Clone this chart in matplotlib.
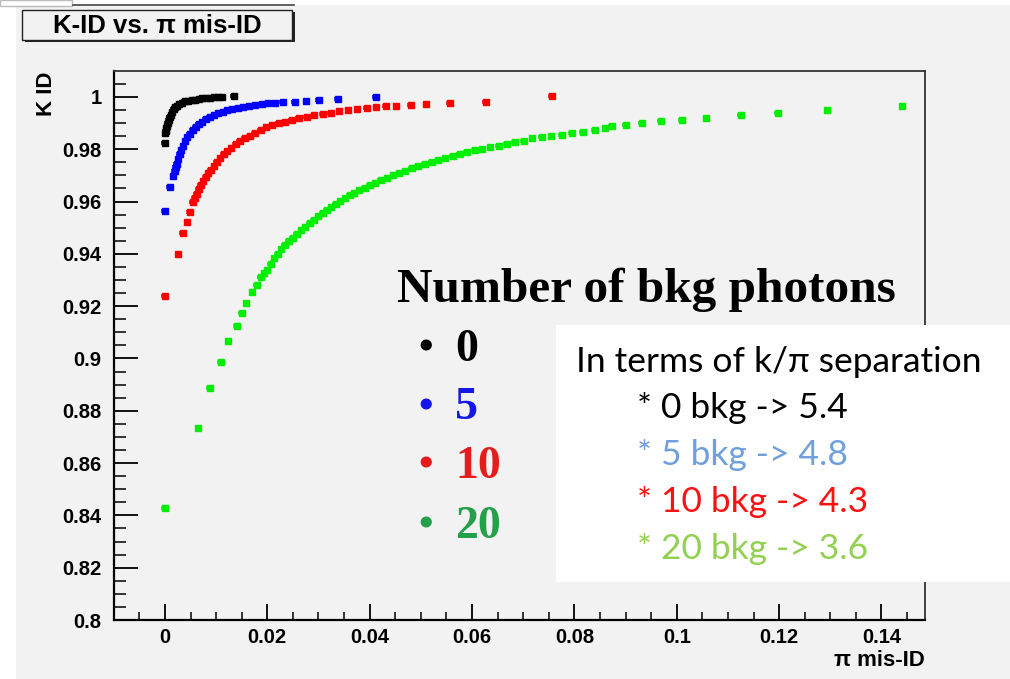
import matplotlib.pyplot as plt
from matplotlib.patches import Rectangle
from matplotlib.ticker import MultipleLocator

# K-ID efficiency vs pi mis-ID for different numbers of background photons
black_x = [0.0000, 0.0001, 0.0002, 0.0003, 0.0005, 0.0006, 0.0008, 0.0010, 0.0012, 0.0014,
           0.0017, 0.0020, 0.0024, 0.0028, 0.0033, 0.0039, 0.0045, 0.0052, 0.0059, 0.0066,
           0.0073, 0.0080, 0.0088, 0.0096, 0.0104, 0.0112, 0.0135]
black_y = [0.9824, 0.9862, 0.9869, 0.9880, 0.9890, 0.9900, 0.9910, 0.9922, 0.9932, 0.9942,
           0.9952, 0.9960, 0.9967, 0.9973, 0.9978, 0.9983, 0.9986, 0.9988, 0.9990, 0.9992,
           0.9994, 0.9996, 0.9997, 0.9998, 0.9999, 1.0000, 1.0002]

blue_x = [0.0000, 0.0010, 0.0016, 0.0019, 0.0021, 0.0023, 0.0026, 0.0029, 0.0032, 0.0036,
          0.0040, 0.0044, 0.0049, 0.0054, 0.0060, 0.0066, 0.0073, 0.0080, 0.0088, 0.0096,
          0.0104, 0.0113, 0.0122, 0.0132, 0.0142, 0.0153, 0.0164, 0.0176, 0.0189, 0.0202,
          0.0216, 0.0230, 0.0254, 0.0276, 0.0301, 0.0338, 0.0412]
blue_y = [0.9563, 0.9655, 0.9697, 0.9715, 0.9731, 0.9745, 0.9762, 0.9780, 0.9797, 0.9813,
          0.9830, 0.9845, 0.9858, 0.9872, 0.9884, 0.9895, 0.9905, 0.9914, 0.9922, 0.9930,
          0.9937, 0.9943, 0.9949, 0.9954, 0.9958, 0.9962, 0.9966, 0.9969, 0.9972, 0.9975,
          0.9977, 0.9979, 0.9981, 0.9984, 0.9989, 0.9992, 1.0000]

red_x = [0.0000, 0.0026, 0.0035, 0.0044, 0.0049, 0.0054, 0.0058, 0.0062, 0.0066, 0.0070,
         0.0075, 0.0080, 0.0085, 0.0090, 0.0096, 0.0101, 0.0108, 0.0115, 0.0122, 0.0130,
         0.0138, 0.0146, 0.0156, 0.0166, 0.0176, 0.0187, 0.0198, 0.0210, 0.0222, 0.0235,
         0.0248, 0.0262, 0.0277, 0.0292, 0.0308, 0.0324, 0.0341, 0.0358, 0.0376, 0.0394,
         0.0413, 0.0432, 0.0452, 0.0480, 0.0511, 0.0556, 0.0627, 0.0756]
red_y = [0.9239, 0.9400, 0.9479, 0.9523, 0.9561, 0.9600, 0.9613, 0.9630, 0.9648, 0.9663,
         0.9678, 0.9693, 0.9708, 0.9722, 0.9737, 0.9752, 0.9766, 0.9780, 0.9793, 0.9806,
         0.9818, 0.9830, 0.9841, 0.9852, 0.9862, 0.9874, 0.9886, 0.9893, 0.9899, 0.9905,
         0.9911, 0.9918, 0.9924, 0.9930, 0.9935, 0.9940, 0.9945, 0.9950, 0.9954, 0.9958,
         0.9961, 0.9964, 0.9967, 0.9970, 0.9974, 0.9977, 0.9982, 1.0002]

green_x = [0.0000, 0.0065, 0.0088, 0.0109, 0.0124, 0.0140, 0.0150, 0.0159, 0.0171, 0.0179,
           0.0187, 0.0194, 0.0200, 0.0207, 0.0214, 0.0220, 0.0227, 0.0234, 0.0242, 0.0250,
           0.0258, 0.0266, 0.0274, 0.0283, 0.0291, 0.0300, 0.0308, 0.0316, 0.0325, 0.0334,
           0.0343, 0.0352, 0.0361, 0.0370, 0.0380, 0.0390, 0.0400, 0.0411, 0.0422, 0.0434,
           0.0446, 0.0458, 0.0470, 0.0482, 0.0495, 0.0508, 0.0521, 0.0534, 0.0548, 0.0562,
           0.0576, 0.0590, 0.0605, 0.0620, 0.0636, 0.0652, 0.0668, 0.0684, 0.0701, 0.0718,
           0.0736, 0.0755, 0.0775, 0.0795, 0.0816, 0.0840, 0.0860, 0.0873, 0.0900, 0.0932,
           0.0969, 0.1010, 0.1058, 0.1125, 0.1197, 0.1294, 0.1441]
green_y = [0.8427, 0.8735, 0.8886, 0.8988, 0.9068, 0.9125, 0.9173, 0.9211, 0.9253, 0.9281,
           0.9310, 0.9325, 0.9340, 0.9360, 0.9383, 0.9400, 0.9418, 0.9433, 0.9448, 0.9462,
           0.9476, 0.9490, 0.9503, 0.9517, 0.9530, 0.9543, 0.9555, 0.9567, 0.9578, 0.9590,
           0.9602, 0.9613, 0.9623, 0.9633, 0.9643, 0.9653, 0.9662, 0.9672, 0.9681, 0.9691,
           0.9700, 0.9709, 0.9718, 0.9727, 0.9735, 0.9743, 0.9751, 0.9759, 0.9767, 0.9774,
           0.9782, 0.9789, 0.9796, 0.9802, 0.9808, 0.9814, 0.9820, 0.9826, 0.9832, 0.9842,
           0.9846, 0.9850, 0.9855, 0.9861, 0.9867, 0.9874, 0.9881, 0.9888, 0.9893, 0.9899,
           0.9906, 0.9912, 0.9921, 0.9929, 0.9938, 0.9950, 0.9966]

legend_labels = ['0', '5', '10', '20']
legend_colors = ['#000000', '#1616e6', '#e61c1c', '#23a049']
box_lines = ['* 0 bkg -> 5.4', '* 5 bkg -> 4.8', '* 10 bkg -> 4.3', '* 20 bkg -> 3.6']
box_colors = ['#000000', '#6f9fdc', '#ff1010', '#92d050']

W, H = 1010, 679
bg = '#f2f2f2'

fig = plt.figure(figsize=(W / 100, H / 100), dpi=100, facecolor='white')

def fx(px):
    return px / W

def fy(py):
    return 1 - py / H

# canvas background
fig.patches.append(Rectangle((fx(16), 0), 1 - fx(16), fy(5), transform=fig.transFigure,
                             facecolor=bg, edgecolor='none', zorder=-5))
fig.add_artist(plt.Line2D([fx(73), fx(294)], [fy(5), fy(5)], color='#444444', lw=1.2))
fig.patches.append(Rectangle((0, fy(6)), fx(72), fy(0) - fy(6), transform=fig.transFigure,
                             facecolor='white', edgecolor='#bbbbbb', lw=1, zorder=1))

# title box with shadow
fig.patches.append(Rectangle((fx(25), fy(42)), fx(270), fy(12) - fy(42), transform=fig.transFigure,
                             facecolor='#222222', edgecolor='none', zorder=2))
fig.patches.append(Rectangle((fx(22), fy(40)), fx(270), fy(10) - fy(40), transform=fig.transFigure,
                             facecolor=bg, edgecolor='#222222', lw=1, zorder=3))
fig.text(fx(157), fy(26), 'K-ID vs. \u03c0 mis-ID', ha='center', va='center',
         fontsize=18.5, fontweight='bold', family='Liberation Sans', zorder=4)

ax = fig.add_axes([fx(114), fy(620), fx(925) - fx(114), fy(71) - fy(620)])
ax.set_facecolor(bg)

series = [(black_x, black_y, '#000000'), (blue_x, blue_y, '#0000ff'),
          (red_x, red_y, '#ff0000'), (green_x, green_y, '#00ee00')]
for xs, ys, c in series:
    ax.errorbar(xs, ys, xerr=0.0005, yerr=0.0007, fmt='s', ms=3.8, mec=c, mfc=c,
                ecolor=c, elinewidth=1.1, capsize=1.6, capthick=1.1, zorder=3)

ax.set_xlim(-0.00995, 0.1485)
ax.set_ylim(0.8, 1.0099)
ax.xaxis.set_major_locator(MultipleLocator(0.02))
ax.xaxis.set_minor_locator(MultipleLocator(0.005))
ax.yaxis.set_major_locator(MultipleLocator(0.02))
ax.yaxis.set_minor_locator(MultipleLocator(0.005))
ax.set_xticks([0, 0.02, 0.04, 0.06, 0.08, 0.1, 0.12, 0.14])
ax.set_xticklabels(['0', '0.02', '0.04', '0.06', '0.08', '0.1', '0.12', '0.14'])
ax.set_yticks([0.8, 0.82, 0.84, 0.86, 0.88, 0.9, 0.92, 0.94, 0.96, 0.98, 1.0])
ax.set_yticklabels(['0.8', '0.82', '0.84', '0.86', '0.88', '0.9', '0.92', '0.94', '0.96', '0.98', '1'])
ax.tick_params(axis='y', which='major', direction='in', length=17, width=1.3, pad=9)
ax.tick_params(axis='y', which='minor', direction='in', length=8.5, width=1.1)
ax.tick_params(axis='x', which='major', direction='in', length=11.5, width=1.3, pad=6)
ax.tick_params(axis='x', which='minor', direction='in', length=5.8, width=1.1)
for lab in ax.get_xticklabels() + ax.get_yticklabels():
    lab.set_fontweight('bold')
    lab.set_fontsize(14.5)
    lab.set_family('Liberation Sans')
for side in ['left', 'bottom']:
    ax.spines[side].set_linewidth(1.6)
for side in ['top', 'right']:
    ax.spines[side].set_linewidth(1.3)
    ax.spines[side].set_color('#333333')

fig.text(fx(47), fy(72), 'K ID', rotation=90, ha='center', va='top',
         fontsize=16, fontweight='bold', family='Liberation Sans')
fig.text(fx(925), fy(660), '\u03c0 mis-ID', ha='right', va='center',
         fontsize=16, fontweight='bold', family='Liberation Sans')

# legend for number of background photons
fig.text(fx(397), fy(290), 'Number of bkg photons', ha='left', va='center',
         fontsize=35.5, fontweight='bold', family='Liberation Serif')
leg_y = [350, 408, 467, 527]
for lab, c, py in zip(legend_labels, legend_colors, leg_y):
    fig.text(fx(418), fy(py), '\u2022', ha='left', va='center', fontsize=30,
             fontweight='bold', family='Liberation Serif', color=c)
    fig.text(fx(455), fy(py), lab, ha='left', va='center', fontsize=33,
             fontweight='bold', family='Liberation Serif', color=c)

# white box with separation numbers
fig.patches.append(Rectangle((fx(556), fy(582)), 1 - fx(556), fy(325) - fy(582),
                             transform=fig.transFigure, facecolor='white', edgecolor='none', zorder=5))
fig.text(fx(576), fy(362), 'In terms of k/\u03c0 separation', ha='left', va='center',
         fontsize=25.5, family='Lato', zorder=6)
box_y = [408, 455, 502, 549]
for txt, c, py in zip(box_lines, box_colors, box_y):
    fig.text(fx(637), fy(py), txt, ha='left', va='center', fontsize=25.5,
             family='Lato', color=c, zorder=6)

fig.savefig('out.png', dpi=100, facecolor=fig.get_facecolor())
